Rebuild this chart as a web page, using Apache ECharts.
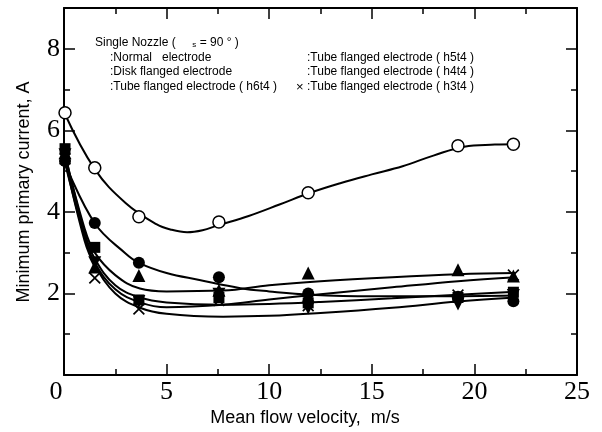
<!DOCTYPE html>
<html><head><meta charset="utf-8">
<script src="https://cdn.jsdelivr.net/npm/echarts@6/dist/echarts.min.js"></script>
<style>html,body{margin:0;padding:0;background:#fff}#c{width:602px;height:432px}</style>
</head><body><div id="c"></div>
<script>
// ---- data ----
const velocity = [0.05, 1.5, 3.65, 7.55, 11.9, 19.2, 21.9];
const normalElectrode = [6.43, 5.08, 3.88, 3.75, 4.47, 5.62, 5.66];
const diskFlanged     = [5.25, 3.73, 2.75, 2.40, 2.00, 1.92, 1.81];
const tubeH6t4        = [5.45, 2.65, 2.44, 2.08, 2.50, 2.58, 2.43];
const tubeH5t4        = [5.55, 3.13, 1.84, 1.90, 1.77, 1.90, 2.03];
const tubeH4t4        = [5.40, 2.75, 1.80, 1.98, 1.64, 1.74, 1.95];
const tubeH3t4        = [5.30, 2.38, 1.62, 1.83, 1.70, 1.96, 2.45];

// fitted curves
const curveXNormal = [0, 1.5, 3, 4.5, 5.25, 6, 6.75, 7.5, 9, 10.5, 12, 13.5, 15, 16.5, 18, 19.5, 21, 22];
const curveNormal  = [6.45, 5.05, 4.22, 3.7, 3.56, 3.5, 3.55, 3.67, 3.9, 4.18, 4.47, 4.71, 4.92, 5.12, 5.38, 5.6, 5.65, 5.66];
const curveXDisk   = [0, 1.5, 3, 3.65, 5, 6.6, 8.6, 10, 12, 15, 18, 22];
const curveDisk    = [5.25, 3.72, 2.98, 2.75, 2.5, 2.33, 2.13, 2.05, 1.97, 1.93, 1.93, 1.95];
const curveX       = [0, 1, 1.5, 2.5, 3.7, 5, 7.75, 10, 12.5, 16, 19.2, 22];
const curveH6t4    = [5.5, 3.6, 3.0, 2.45, 2.12, 2.05, 2.07, 2.2, 2.3, 2.4, 2.47, 2.5];
const curveH5t4    = [5.55, 3.5, 2.85, 2.2, 1.9, 1.78, 1.72, 1.74, 1.79, 1.88, 1.97, 2.04];
const curveH4t4    = [5.4, 3.3, 2.7, 2.0, 1.65, 1.5, 1.43, 1.45, 1.52, 1.65, 1.8, 1.9];
const curveH3t4    = [5.3, 3.4, 2.75, 2.1, 1.78, 1.66, 1.72, 1.85, 1.98, 2.15, 2.3, 2.4];

const xTicks = [0, 5, 10, 15, 20, 25];
const yTicks = [2, 4, 6, 8];

const xTitle = 'Mean flow velocity,  m/s';
const yTitle = 'Minimum primary current, A';
const legendRows = [
  [':Normal   electrode', ':Tube flanged electrode ( h5t4 )'],
  [':Disk flanged electrode', ':Tube flanged electrode ( h4t4 )'],
  [':Tube flanged electrode ( h6t4 )', ':Tube flanged electrode ( h3t4 )']
];

// ---- chart ----
const pair = (xs, ys) => xs.map((x, i) => [x, ys[i]]);
const crossPath = 'path://M0,1 L1,0 L5,4 L9,0 L10,1 L6,5 L10,9 L9,10 L5,6 L1,10 L0,9 L4,5 Z';
const black = '#000';
const serif = '"Liberation Serif","Times New Roman",serif';
const sans = '"Liberation Sans",Arial,sans-serif';

function curve(xs, ys) {
  return { type: 'line', data: pair(xs, ys), smooth: 0.4, showSymbol: false, symbol: 'none',
    lineStyle: { color: black, width: 2, opacity: 1 }, z: 2, silent: true };
}
function marks(ys, symbol, size, extra) {
  return Object.assign({ type: 'scatter', data: pair(velocity, ys), symbol: symbol, symbolSize: size,
    itemStyle: { color: black, opacity: 1 }, z: 5, silent: true }, extra || {});
}
function axisCommon() {
  return {
    axisLine: { show: true, onZero: false, lineStyle: { color: black, width: 2 } },
    axisTick: { show: true, inside: true, length: 11, lineStyle: { color: black, width: 1.5 } },
    minorTick: { show: true, splitNumber: 2, length: 6, lineStyle: { color: black, width: 1.5 } },
    splitLine: { show: false }, minorSplitLine: { show: false }
  };
}

const chart = echarts.init(document.getElementById('c'), null, { renderer: 'canvas' });
const legendGraphics = [];
const rowY = [58, 72, 87];
legendRows.forEach((r, i) => {
  legendGraphics.push({ type: 'text', x: 110, y: rowY[i], style: { text: r[0], font: '12px ' + sans, fill: black, verticalAlign: 'middle' } });
  legendGraphics.push({ type: 'text', x: 307, y: rowY[i], style: { text: r[1], font: '12px ' + sans, fill: black, verticalAlign: 'middle' } });
});
legendGraphics.push({ type: 'text', x: 296, y: 87, style: { text: '\u00d7', font: '13px ' + sans, fill: black, verticalAlign: 'middle' } });
legendGraphics.push({ type: 'text', x: 95, y: 43, style: {
  text: 'Single Nozzle (     {s|s} = 90 \u00b0 )', font: '12px ' + sans, fill: black, verticalAlign: 'middle',
  rich: { s: { fontSize: 8, fontFamily: sans, verticalAlign: 'bottom', padding: [4, 0, 0, 0] } } } });

chart.setOption({
  animation: false,
  backgroundColor: '#fff',
  grid: { left: 64, right: 25, top: 8, bottom: 57, containLabel: false },
  xAxis: [
    Object.assign({ type: 'value', min: 0, max: 25, interval: 5, position: 'bottom',
      axisLabel: { show: true, color: black, fontFamily: serif, fontSize: 26, margin: 4,
        formatter: v => (v === 0 ? '{z|0}' : (xTicks.indexOf(v) >= 0 ? String(v) : '')),
        rich: { z: { fontFamily: serif, fontSize: 26, color: black, padding: [0, 16, 0, 0] } } } }, axisCommon()),
    Object.assign({ type: 'value', min: 0, max: 25, interval: 5, position: 'top',
      axisLabel: { show: false } }, axisCommon())
  ],
  yAxis: [
    Object.assign({ type: 'value', min: 0, max: 9, interval: 2, position: 'left',
      axisLabel: { show: true, color: black, fontFamily: serif, fontSize: 26, margin: 4,
        formatter: v => (yTicks.indexOf(v) >= 0 ? String(v) : '') } }, axisCommon()),
    Object.assign({ type: 'value', min: 0, max: 9, interval: 2, position: 'right',
      axisLabel: { show: false } }, axisCommon())
  ],
  graphic: [
    { type: 'text', x: 305, y: 418, style: { text: xTitle, font: '18px ' + sans, fill: black, align: 'center', verticalAlign: 'middle' } },
    { type: 'text', x: 24, y: 192, rotation: Math.PI / 2, style: { text: yTitle, font: '18px ' + sans, fill: black, align: 'center', verticalAlign: 'middle' } }
  ].concat(legendGraphics),
  series: [
    curve(curveXNormal, curveNormal),
    curve(curveXDisk, curveDisk),
    curve(curveX, curveH6t4),
    curve(curveX, curveH5t4),
    curve(curveX, curveH4t4),
    curve(curveX, curveH3t4),
    marks(normalElectrode, 'circle', 12, { itemStyle: { color: '#fff', borderColor: black, borderWidth: 1.5, opacity: 1 }, z: 6 }),
    marks(diskFlanged, 'circle', 12),
    marks(tubeH6t4, 'triangle', 13),
    marks(tubeH5t4, 'rect', 11),
    marks(tubeH4t4, 'triangle', 13, { symbolRotate: 180 }),
    marks(tubeH3t4, crossPath, 12)
  ]
});
</script></body></html>
